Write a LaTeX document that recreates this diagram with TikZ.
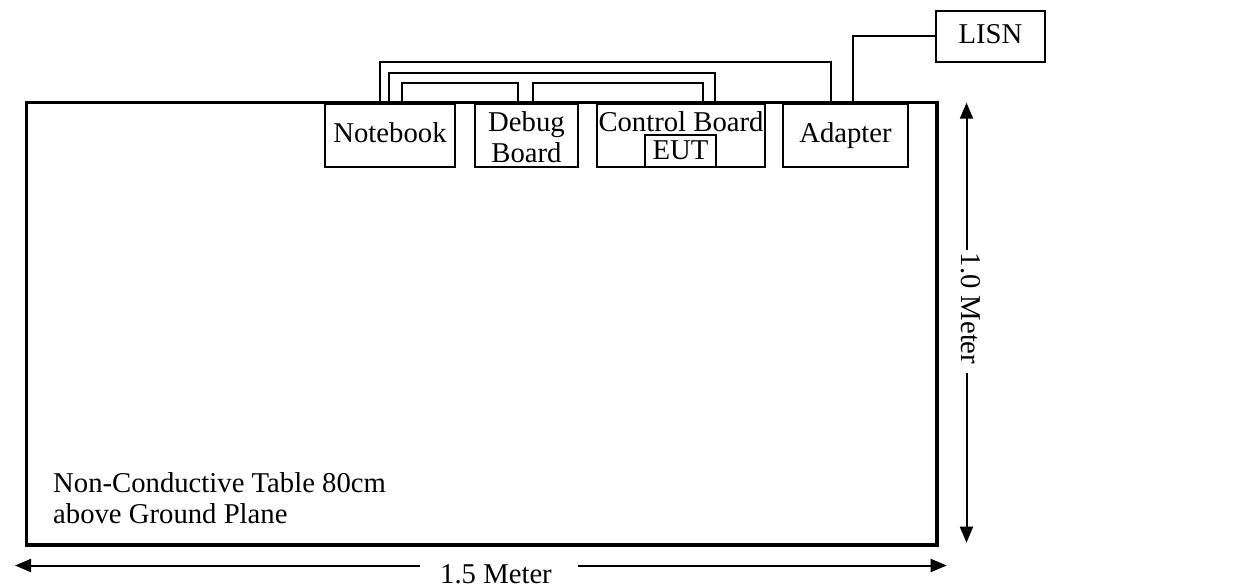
\documentclass[tikz,border=0pt]{standalone}
\usepackage{fontspec}
\setmainfont{Liberation Serif}
\usetikzlibrary{arrows.meta}
\begin{document}
\begin{tikzpicture}[x=1pt,y=-1pt,
  every node/.style={font=\fontsize{28.7}{31}\selectfont, inner sep=0pt},
  box/.style={draw, line width=2pt, minimum height=63pt},
  cable/.style={line width=2pt},
  dimline/.style={line width=2pt, -{Triangle[length=16pt,width=13pt]}}]
\useasboundingbox (0,0) rectangle (1247,588);
% table
\node[draw, line width=3.5pt, minimum width=910.5pt, minimum height=442pt, anchor=north west] (tbl) at (24.5,101) {};
\node[anchor=base west, align=left] (tbltxt) at (53,523.5) {Non-Conductive Table 80cm\\above Ground Plane};
% equipment
\node[box, minimum width=130pt] (nb) at (390,135.5) {};
\node[anchor=base] (nbtxt) at (390,143) {Notebook};
\node[box, minimum width=103pt] (dbg) at (526.5,135.5) {};
\node[anchor=base, align=center] (dbgtxt) at (526.5,163) {Debug\\Board};
\node[box, minimum width=168pt] (cb) at (681,135.5) {};
\node[anchor=base] (cbtxt) at (681,131.7) {Control Board};
\node[draw, line width=2pt, minimum width=71pt, minimum height=32pt] (eut) at (680.5,151) {};
\node[anchor=base] (euttxt) at (680.5,160) {EUT};
\node[box, minimum width=125pt] (ad) at (845.5,135.5) {};
\node[anchor=base] (adtxt) at (845.5,143) {Adapter};
\node[draw, line width=2pt, minimum width=109pt, minimum height=51pt] (lisn) at (990.5,36.5) {};
\node[anchor=base] (lisntxt) at (990.5,43.3) {LISN};
% cables
\draw[cable] (380,0 |- tbl.north) -- (380,61.7) -| (830.7,0 |- tbl.north);
\draw[cable] (389.3,0 |- tbl.north) -- (389.3,72.7) -| (715,0 |- tbl.north);
\draw[cable] (402,0 |- tbl.north) -- (402,83.3) -| (518.3,0 |- tbl.north);
\draw[cable] (533.3,0 |- tbl.north) -- (533.3,83.3) -| (703.3,0 |- tbl.north);
\draw[cable] (853.3,0 |- tbl.north) |- (lisn.west);
% dimensions
\coordinate (hl) at (15,565.5);
\coordinate (hr) at (946.7,565.5);
\coordinate (hl2) at (420,565.5);
\coordinate (hr2) at (578,565.5);
\node[anchor=base] (hdim) at (496,583) {1.5 Meter};
\draw[dimline] (hl2) -- (hl);
\draw[dimline] (hr2) -- (hr);
\coordinate (vt) at (966.5,102.7);
\coordinate (vb) at (966.5,542.7);
\coordinate (vt2) at (966.5,250);
\coordinate (vb2) at (966.5,373);
\node[anchor=base, rotate=-90] (vdim) at (961,308.5) {1.0 Meter};
\draw[dimline] (vt2) -- (vt);
\draw[dimline] (vb2) -- (vb);
\end{tikzpicture}
\end{document}
